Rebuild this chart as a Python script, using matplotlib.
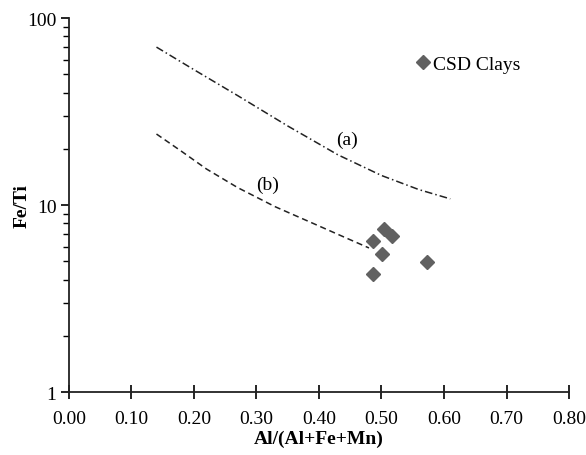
import matplotlib
matplotlib.use("Agg")
import matplotlib.pyplot as plt
from matplotlib.ticker import LogLocator, FixedFormatter, FixedLocator, NullFormatter

# CSD clay samples
clay_x = [0.504, 0.517, 0.486, 0.501, 0.486, 0.573]
clay_y = [7.46, 6.83, 6.42, 5.47, 4.28, 4.95]

# curve (a)
a_x = [0.14, 0.20, 0.27, 0.35, 0.43, 0.50, 0.56, 0.61]
a_y = [70, 53, 38.5, 26.5, 18.6, 14.4, 12.1, 10.8]

# curve (b)
b_x = [0.14, 0.18, 0.22, 0.27, 0.33, 0.39, 0.44, 0.48]
b_y = [24, 19.4, 15.6, 12.4, 9.8, 8.0, 6.75, 5.9]

xticks = [0.0, 0.1, 0.2, 0.3, 0.4, 0.5, 0.6, 0.7, 0.8]
xlabels = ['0.00', '0.10', '0.20', '0.30', '0.40', '0.50', '0.60', '0.70', '0.80']
yticks = [1, 10, 100]
ylabels = ['1', '10', '100']

plt.rcParams['font.family'] = ['Liberation Serif', 'DejaVu Serif']

fig = plt.figure(figsize=(5.86, 4.56), dpi=100)
ax = fig.add_axes([0.1177, 0.138, 0.8533, 0.820])

ax.plot(a_x, a_y, color='#222222', lw=1.1, dashes=(5, 2, 1, 2))
ax.plot(b_x, b_y, color='#222222', lw=1.1, dashes=(4, 2.5))
ax.plot(clay_x, clay_y, 'D', color='#616161', markersize=7.5, linestyle='none', label='CSD Clays')

ax.text(0.445, 22.6, '(a)', fontsize=14, ha='center', va='center')
ax.text(0.318, 12.9, '(b)', fontsize=14, ha='center', va='center')

ax.set_yscale('log')
ax.set_xlim(0, 0.8)
ax.set_ylim(1, 100)
ax.xaxis.set_major_locator(FixedLocator(xticks))
ax.xaxis.set_major_formatter(FixedFormatter(xlabels))
ax.yaxis.set_major_locator(FixedLocator(yticks))
ax.yaxis.set_major_formatter(FixedFormatter(ylabels))
ax.yaxis.set_minor_locator(LogLocator(base=10, subs=range(2, 10)))
ax.yaxis.set_minor_formatter(NullFormatter())

ax.tick_params(axis='x', direction='inout', length=10, width=1.2, labelsize=14, pad=8)
ax.tick_params(axis='y', which='major', direction='out', length=6, width=1.2, labelsize=14, pad=3)
ax.tick_params(axis='y', which='minor', direction='out', length=4, width=1.0)

for s in ['top', 'right']:
    ax.spines[s].set_visible(False)
for s in ['left', 'bottom']:
    ax.spines[s].set_linewidth(1.3)
    ax.spines[s].set_color('#222222')

ax.set_xlabel('Al/(Al+Fe+Mn)', fontsize=14, fontweight='bold')
ax.set_ylabel('Fe/Ti', fontsize=14, fontweight='bold')
ax.xaxis.set_label_coords(0.5, -0.10)
ax.yaxis.set_label_coords(-0.076, 0.5)

ax.legend(loc='center left', bbox_to_anchor=(0.692, 0.877), frameon=False,
          fontsize=14, handlelength=0.8, handletextpad=0.15, borderpad=0,
          borderaxespad=0, markerscale=0.9)

fig.savefig('out.png', dpi=100)
